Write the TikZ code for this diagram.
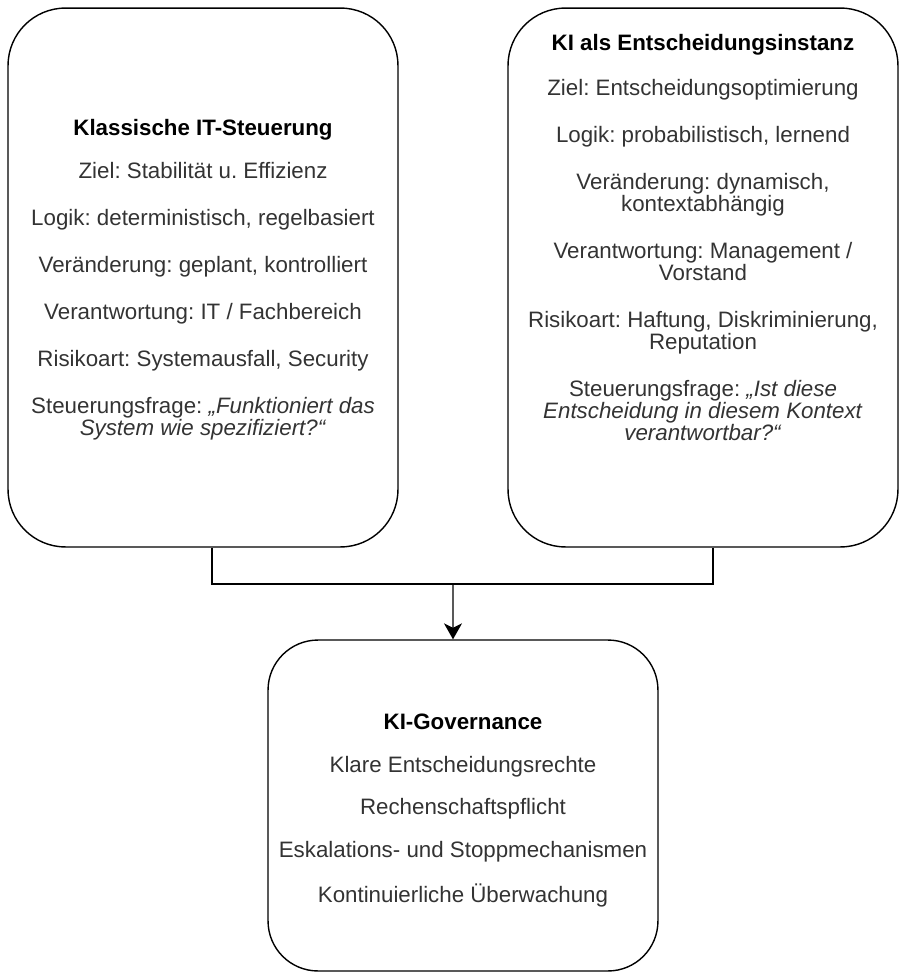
\documentclass[tikz,border=0pt]{standalone}
\usepackage{fontspec}
\setmainfont{Liberation Sans}
\usepackage{xcolor}
\usepackage{tikz}
\usetikzlibrary{arrows.meta, positioning}
\definecolor{bodytext}{HTML}{333333}
\tikzstyle{panel} = [rectangle, rounded corners=1.15cm, minimum width=7.8cm, minimum height=10.78cm, draw=black, line width=0.8pt]
\tikzstyle{panelsmall} = [panel, rounded corners=1cm, minimum height=6.62cm]
\tikzstyle{content} = [align=center, text=bodytext, font=\fontsize{12.7}{12.6}\selectfont\frenchspacing]
\tikzstyle{arrow} = [line width=0.8pt, -{Stealth[length=3.2mm, width=3.6mm, inset=0.9mm]}]
\tikzstyle{line} = [draw, line width=0.8pt]
\begin{document}
\begin{tikzpicture}[x=0.02cm, y=-0.02cm]
   \useasboundingbox (0,0) rectangle (900,975);
   \node (klassik) [panel] at (203,277.5) {};
   \node (ki) [panel] at (703,277.5) {};
   \node (gov) [panelsmall] at (463,805.5) {};
   \node (klassiktext) [content] at ([yshift=-0.05cm]klassik.center) {\textcolor{black}{\textbf{Klassische IT-Steuerung}}\\[11.9pt]
      Ziel: Stabilität u. Effizienz\\[14.1pt]
      Logik: deterministisch, regelbasiert\\[14.1pt]
      Veränderung: geplant, kontrolliert\\[14.1pt]
      Verantwortung: IT / Fachbereich\\[14.1pt]
      Risikoart: Systemausfall, Security\\[14.1pt]
      Steuerungsfrage: \textit{„Funktioniert das}\\
      \textit{System wie spezifiziert?“}};
   \node (kitext) [content] at ([yshift=0.8cm]ki.center) {\textcolor{black}{\textbf{KI als Entscheidungsinstanz}}\\[13pt]
      Ziel: Entscheidungsoptimierung\\[14.1pt]
      Logik: probabilistisch, lernend\\[14.1pt]
      Veränderung: dynamisch,\\ kontextabhängig\\[14.1pt]
      Verantwortung: Management /\\ Vorstand\\[14.1pt]
      Risikoart: Haftung, Diskriminierung,\\ Reputation\\[14.1pt]
      Steuerungsfrage: \textit{„Ist diese}\\
      \textit{Entscheidung in diesem Kontext}\\
      \textit{verantwortbar?“}};
   \node (govtext) [content] at ([yshift=-0.1cm]gov.center) {\textcolor{black}{\textbf{KI-Governance}}\\[11.6pt]
      Klare Entscheidungsrechte\\[11.6pt]
      Rechenschaftspflicht\\[11.6pt]
      Eskalations- und Stoppmechanismen\\[11.6pt]
      Kontinuierliche Überwachung};
   \coordinate (merge) at (453,584);
   \path [line] ([xshift=0.18cm]klassik.south) |- (merge);
   \path [line] ([xshift=0.2cm]ki.south) |- (merge);
   \draw [arrow] (merge) -- ([xshift=-0.2cm]gov.north);
\end{tikzpicture}
\end{document}
